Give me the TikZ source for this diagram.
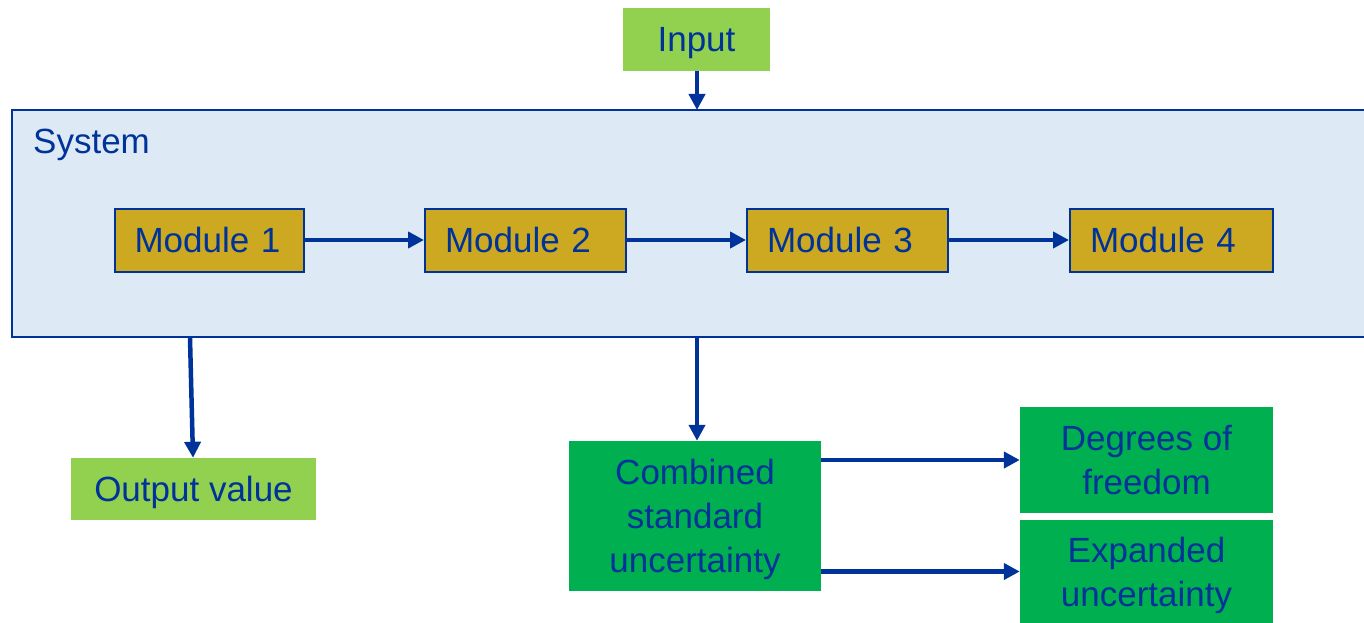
\documentclass[tikz,border=0pt]{standalone}
\usepackage{fontspec}
\setmainfont{Liberation Sans}
\usetikzlibrary{arrows.meta}

\definecolor{navy}{RGB}{0,51,153}
\definecolor{lightgreen}{RGB}{146,208,80}
\definecolor{darkgreen}{RGB}{0,176,80}
\definecolor{gold}{RGB}{204,169,32}
\definecolor{paleblue}{RGB}{221,234,246}

\tikzset{
  box/.style={inner sep=0pt, text=navy, align=center, text depth=-2pt,
    font=\fontsize{35}{44}\selectfont},
  leaf/.style={box, fill=lightgreen},
  result/.style={box, fill=darkgreen},
  modbox/.style={box, fill=gold, draw=navy, line width=2pt, align=left,
    inner xsep=20pt, minimum height=63pt},
  flow/.style={draw=navy, line width=4.5pt,
    -{Triangle[length=16pt, width=16pt]}},
}

\begin{document}
\begin{tikzpicture}[x=1pt, y=-1pt]
  \useasboundingbox (0,0) rectangle (1364,623);

  % system frame
  \draw[fill=paleblue, draw=navy, line width=2pt] (12,110) rectangle (1370,337);
  \node[box, anchor=west] (sysname) at (33,141) {System};

  \node[leaf, minimum width=147pt, minimum height=63pt] (input) at (696.5,39.5) {Input};

  % modules
  \node[modbox, text width=149pt] (m1) at (209,240) {Module 1};
  \node[modbox, text width=161pt] (m2) at (525.5,240) {Module 2};
  \node[modbox, text width=161pt] (m3) at (847.5,240) {Module 3};
  \node[modbox, text width=163pt] (m4) at (1171.5,240) {Module 4};

  % results
  \node[leaf, minimum width=245pt, minimum height=62pt] (output) at (193.5,489) {Output value};
  \node[result, minimum width=252pt, minimum height=150pt] (comb) at (695,516)
    {Combined\\standard\\uncertainty};
  \node[result, minimum width=253pt, minimum height=106pt] (dof) at (1146.5,460)
    {Degrees of\\freedom};
  \node[result, minimum width=253pt, minimum height=103pt] (exp) at (1146.5,571.5)
    {Expanded\\uncertainty};

  \coordinate (sysin) at (697,110);
  \coordinate (sysleft) at (190,338);
  \coordinate (sysmid) at (697,338);

  \draw[flow] (input.south -| sysin) -- (sysin);
  \draw[flow] (m1) -- (m2);
  \draw[flow] (m2) -- (m3);
  \draw[flow] (m3) -- (m4);
  \draw[flow] (sysleft) -- (output.north -| 193,0);
  \draw[flow] (sysmid) -- (comb.north -| sysmid);
  \draw[flow] (comb.east |- dof.west) -- (dof.west);
  \draw[flow] (comb.east |- exp.west) -- (exp.west);
\end{tikzpicture}
\end{document}
